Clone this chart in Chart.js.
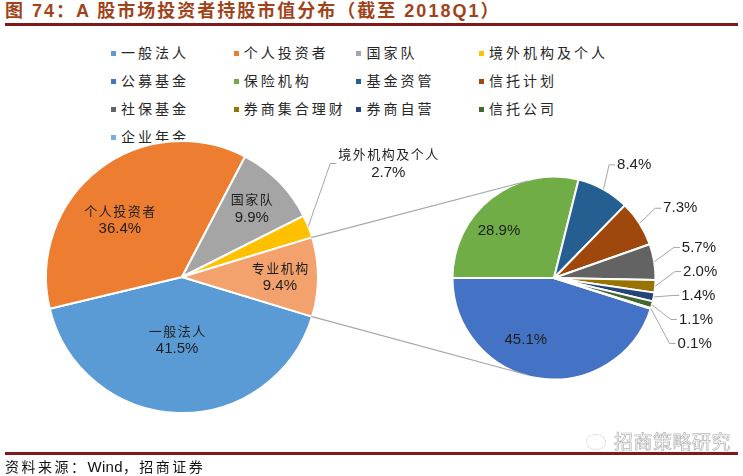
<!DOCTYPE html>
<html>
<head>
<meta charset="utf-8">
<script src="https://cdn.jsdelivr.net/npm/chart.js@4.4.0/dist/chart.umd.min.js"></script>
<style>
  body { margin: 0; background: #fff; }
  #wrap { position: relative; width: 743px; height: 476px; overflow: hidden; font-family: "Noto Sans CJK SC", sans-serif; }
  #title { position: absolute; left: 5px; top: 0; font-family: "Liberation Sans", "Noto Sans CJK SC", sans-serif; font-size: 18px; font-weight: bold; letter-spacing: 2px; color: #A0431A; line-height: 22px; white-space: nowrap; }
  .rule { position: absolute; left: 5px; width: 733px; height: 3px; background: #80191A; }
  .item { position: absolute; font-size: 14px; letter-spacing: 3px; color: #262626; line-height: 20px; white-space: nowrap; }
  .box { display: inline-block; width: 5px; height: 5px; margin-right: 5px; vertical-align: middle; position: relative; top: -1px; }
  canvas { position: absolute; left: 0; top: 0; }
  #source { position: absolute; left: 5px; top: 456px; font-size: 14px; letter-spacing: 2.5px; color: #111; line-height: 20px; white-space: nowrap; }
  #source span { font-family: "Liberation Sans", sans-serif; letter-spacing: 0.3px; font-size: 15px; }
  #mark { position: absolute; left: 586px; top: 429px; font-size: 19px; line-height: 24px; color: transparent; -webkit-text-stroke: 0.7px #b5b5b5; white-space: nowrap; letter-spacing: 0.5px; }
  #mark i { display: inline-block; width: 18px; height: 14px; border: 1.5px dotted #c4c4c4; border-radius: 50%; margin-right: 8px; vertical-align: -1px; }
</style>
</head>
<body>
<div id="wrap">
  <div id="title">图 74：A 股市场投资者持股市值分布（截至 2018Q1）</div>
  <div class="rule" style="top:23px"></div>
  <div id="legend"></div>
  <canvas id="leftPie" width="743" height="476"></canvas>
  <canvas id="rightPie" width="743" height="476"></canvas>
  <div id="mark"><i></i>招商策略研究</div>
  <div class="rule" style="top:452px"></div>
  <div id="source">资料来源：<span>Wind</span>，招商证券</div>
</div>
<script>
// 主饼图：投资者结构（%）
const mainLabels = ['一般法人', '个人投资者', '国家队', '境外机构及个人', '专业机构'];
const mainValues = [41.5, 36.4, 9.9, 2.7, 9.4];
const mainColors = ['#5B9BD5', '#ED7D31', '#A5A5A5', '#FFC000', '#F3A26E'];

// 子饼图：专业机构拆分（%）
const subLabels = ['公募基金', '保险机构', '基金资管', '信托计划', '社保基金', '券商集合理财', '券商自营', '信托公司', '企业年金'];
const subValues = [45.1, 28.9, 8.4, 7.3, 5.7, 2.0, 1.4, 1.1, 0.1];
const subColors = ['#4472C4', '#70AD47', '#255E91', '#9E480E', '#636363', '#997300', '#264478', '#43682B', '#7CAFDD'];

const cnFont = '13px "Noto Sans CJK SC"';
const numFont = '15px "Liberation Sans", Arial';

// 图例 (专业机构 不显示)
(function buildLegend() {
    const names = mainLabels.slice(0, 4).concat(subLabels);
    const colors = mainColors.slice(0, 4).concat(subColors);
    const legend = document.getElementById('legend');
    names.forEach((name, i) => {
        const col = i % 4, row = Math.floor(i / 4);
        const el = document.createElement('div');
        el.className = 'item';
        el.style.left = (111 + col * 122.7) + 'px';
        el.style.top = (42 + row * 28) + 'px';
        el.innerHTML = `<span class="box" style="background:${colors[i]}"></span>${name}`;
        legend.appendChild(el);
    });
})();

function drawBlock(ctx, lines, x, y, align) {
    const lh = 18;
    const top = y - (lines.length - 1) * lh / 2;
    ctx.textBaseline = 'middle';
    ctx.fillStyle = '#1e1e1e';
    let widths = lines.map(ln => {
        ctx.font = ln.font; ctx.letterSpacing = ln.spacing;
        return ctx.measureText(ln.text).width - parseFloat(ln.spacing);
    });
    const maxW = Math.max(...widths);
    lines.forEach((ln, k) => {
        ctx.font = ln.font; ctx.letterSpacing = ln.spacing;
        const cx = align === 'center' ? x : x + maxW / 2;
        ctx.fillText(ln.text, cx - widths[k] / 2, top + k * lh);
    });
    ctx.letterSpacing = '0px';
    return maxW;
}

// 扇区标签 + 引导线
const pieLabels = {
    id: 'pieLabels',
    afterDatasetsDraw(chart, args, opts) {
        const ctx = chart.ctx;
        const arcs = chart.getDatasetMeta(0).data;
        const values = chart.data.datasets[0].data;
        const names = chart.data.labels;
        const outside = [];
        ctx.save();
        arcs.forEach((arc, i) => {
            const mid = (arc.startAngle + arc.endAngle) / 2;
            const lines = [];
            if (opts.showName) lines.push({ text: names[i], font: cnFont, spacing: '1.5px' });
            lines.push({ text: values[i].toFixed(1) + '%', font: numFont, spacing: '0px' });
            const n = opts.nudge[names[i]] || [0, 0];
            if (opts.outside.includes(names[i])) {
                const R = arc.outerRadius + opts.gap;
                outside.push({
                    arc, mid, lines,
                    x: arc.x + R * Math.cos(mid) + n[0],
                    ideal: arc.y + R * Math.sin(mid) + n[1]
                });
            } else {
                const r = arc.outerRadius * opts.inside;
                drawBlock(ctx, lines, arc.x + r * Math.cos(mid) + n[0], arc.y + r * Math.sin(mid) + n[1], 'center');
            }
        });

        // 避让：把重叠的标签成组上下展开
        const gap = opts.rowGap;
        outside.sort((a, b) => a.ideal - b.ideal);
        let groups = outside.map(o => [o]);
        const place = g => {
            const mean = g.reduce((s, o) => s + o.ideal, 0) / g.length;
            g.forEach((o, k) => { o.y = mean + (k - (g.length - 1) / 2) * gap; });
        };
        let merged = true;
        while (merged) {
            merged = false;
            groups.forEach(place);
            for (let i = 1; i < groups.length; i++) {
                const a = groups[i - 1], b = groups[i];
                if (b[0].y - a[a.length - 1].y < gap && b[0].lines.length === 1) {
                    groups.splice(i - 1, 2, a.concat(b));
                    merged = true;
                    break;
                }
            }
        }

        ctx.strokeStyle = '#A6A6A6';
        ctx.lineWidth = 1;
        outside.forEach(o => {
            const a = o.arc;
            ctx.beginPath();
            ctx.moveTo(a.x + a.outerRadius * Math.cos(o.mid), a.y + a.outerRadius * Math.sin(o.mid));
            ctx.lineTo(o.x - 8, o.y);
            ctx.lineTo(o.x - 2, o.y);
            ctx.stroke();
            drawBlock(ctx, o.lines, o.x, o.y, 'left');
        });
        ctx.restore();
    }
};

function pieConfig(labels, values, colors, rotation, radius, padding, labelOpts) {
    return {
        type: 'pie',
        data: {
            labels: labels,
            datasets: [{
                data: values,
                backgroundColor: colors,
                borderColor: '#ffffff',
                borderWidth: 2,
                rotation: rotation,
                radius: radius
            }]
        },
        options: {
            responsive: false,
            animation: false,
            events: [],
            rotation: rotation,
            radius: radius,
            layout: { padding: padding },
            plugins: {
                legend: { display: false },
                tooltip: { enabled: false },
                pieLabels: labelOpts
            }
        },
        plugins: [pieLabels]
    };
}

const sum = arr => arr.reduce((s, v) => s + v, 0);
// 主饼：“专业机构”居中于 0°（右侧）
const mainRotation = 90 + (mainValues[4] / sum(mainValues)) * 180;
// 子饼：公募基金 结束于 180°（左侧）
const subRotation = 90 + 180 - (subValues[0] / sum(subValues)) * 360;

const leftChart = new Chart(document.getElementById('leftPie'), pieConfig(
    mainLabels, mainValues, mainColors, mainRotation, 136,
    { left: 0, right: 379, top: 78, bottom: 0 },
    {
        showName: true, inside: 0.72, gap: 27, rowGap: 24,
        outside: ['境外机构及个人'],
        nudge: { '一般法人': [-2, -35], '个人投资者': [-2, 20], '境外机构及个人': [5, -53] }
    }
));

// 连接线：主饼“专业机构”两端到子饼的切线
const connector = {
    id: 'connector',
    afterDraw(chart) {
        const src = leftChart.getDatasetMeta(0).data[4];
        const dst = chart.getDatasetMeta(0).data[0];
        const ctx = chart.ctx;
        const C = { x: dst.x, y: dst.y }, r = dst.outerRadius - 1;
        ctx.save();
        ctx.strokeStyle = '#A6A6A6';
        ctx.lineWidth = 1.2;
        [[src.startAngle, -1], [src.endAngle, 1]].forEach(([ang, side]) => {
            const P = { x: src.x + (src.outerRadius - 1) * Math.cos(ang), y: src.y + (src.outerRadius - 1) * Math.sin(ang) };
            const dx = C.x - P.x, dy = C.y - P.y;
            const d = Math.hypot(dx, dy);
            const dir = Math.atan2(dy, dx) + side * Math.asin(r / d);
            const L = Math.sqrt(d * d - r * r);
            ctx.beginPath();
            ctx.moveTo(P.x, P.y);
            ctx.lineTo(P.x + L * Math.cos(dir), P.y + L * Math.sin(dir));
            ctx.stroke();
        });
        ctx.restore();
    }
};

const subCfg = pieConfig(
    subLabels, subValues, subColors, subRotation, 101.5,
    { left: 365, right: 0, top: 80, bottom: 0 },
    {
        showName: false, inside: 0.72, gap: 28, rowGap: 24,
        outside: subLabels.slice(2),
        nudge: { '公募基金': [-17, -10], '保险机构': [-10, 10] }
    }
);
subCfg.plugins.push(connector);
new Chart(document.getElementById('rightPie'), subCfg);
</script>
</body>
</html>
